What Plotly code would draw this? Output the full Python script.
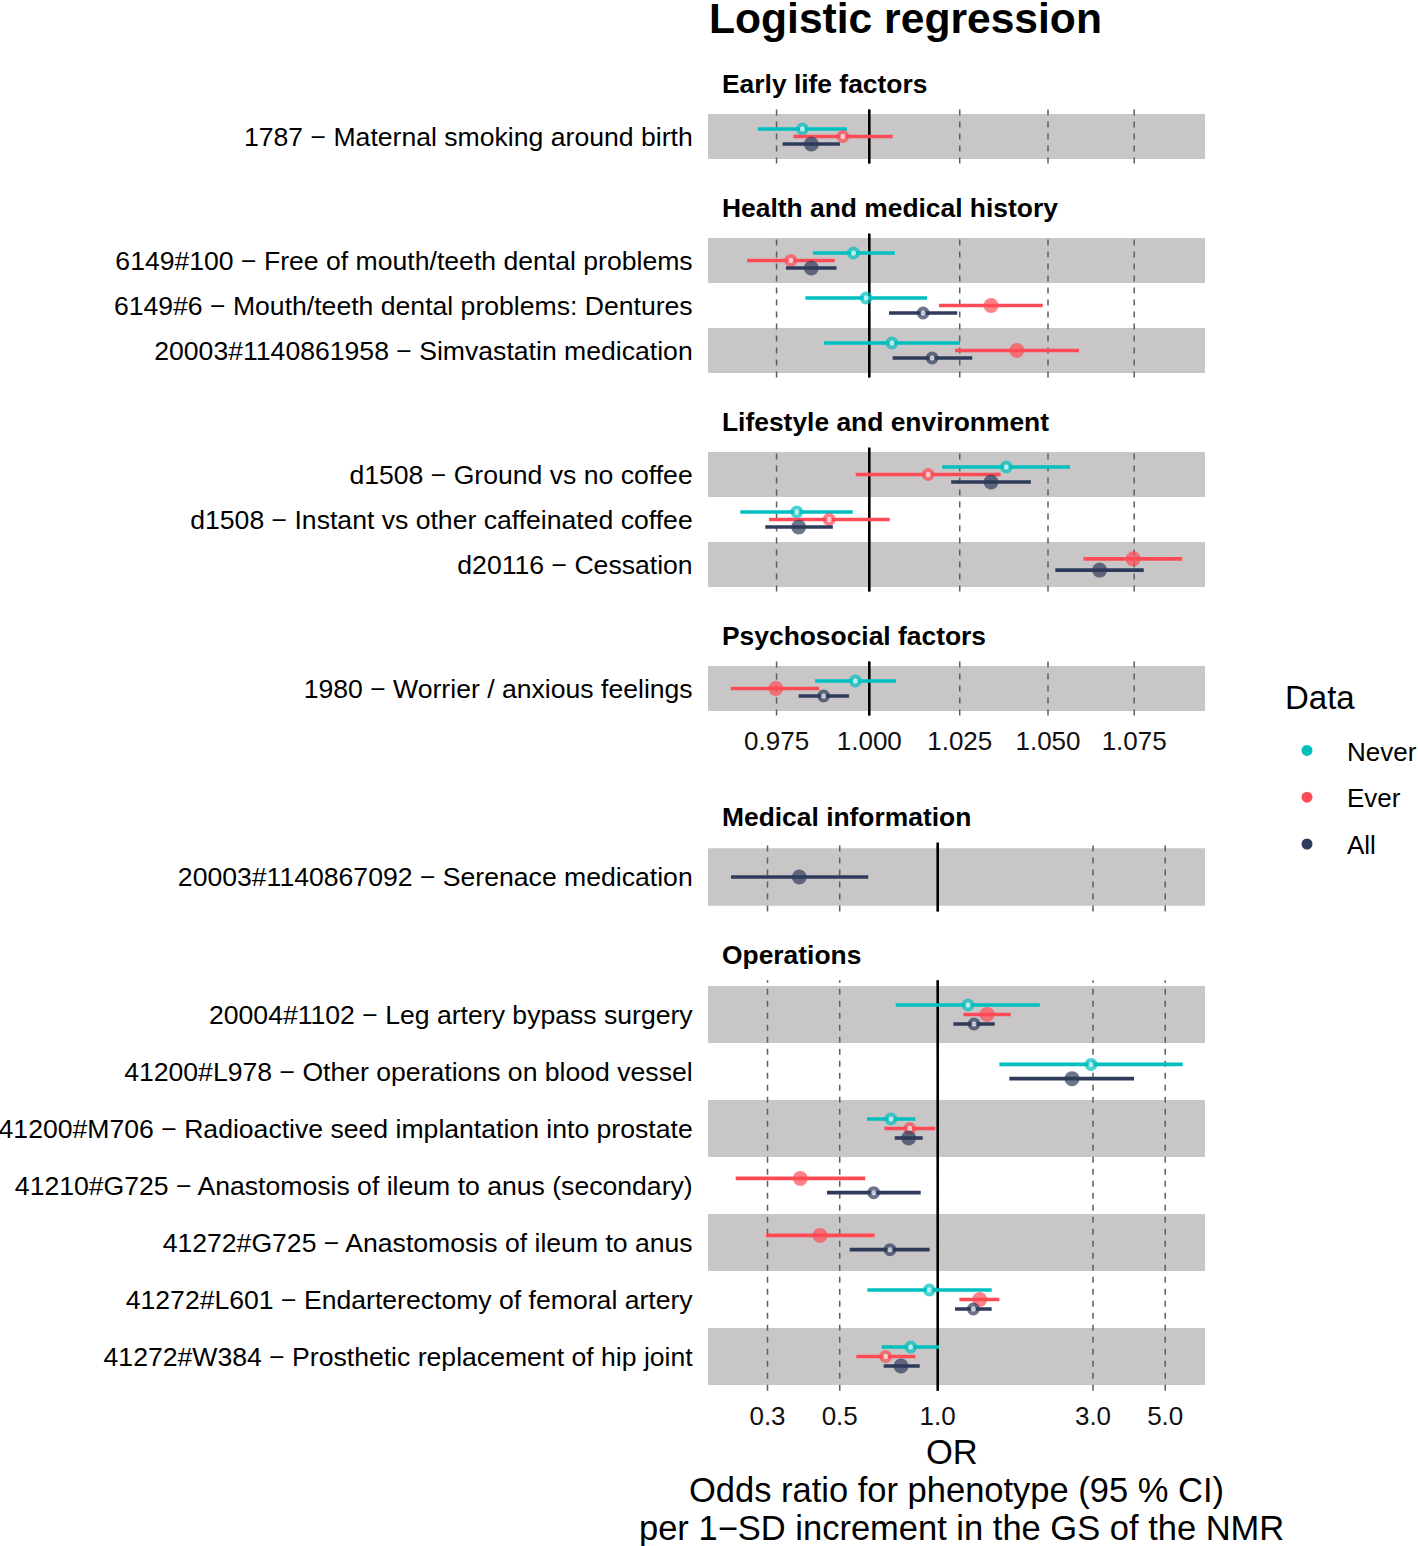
import plotly.graph_objects as go

# ---------------- data ----------------
phenotypes = [
    "1787 − Maternal smoking around birth",
    "6149#100 − Free of mouth/teeth dental problems",
    "6149#6 − Mouth/teeth dental problems: Dentures",
    "20003#1140861958 − Simvastatin medication",
    "d1508 − Ground vs no coffee",
    "d1508 − Instant vs other caffeinated coffee",
    "d20116 − Cessation",
    "1980 − Worrier / anxious feelings",
    "20003#1140867092 − Serenace medication",
    "20004#1102 − Leg artery bypass surgery",
    "41200#L978 − Other operations on blood vessel",
    "41200#M706 − Radioactive seed implantation into prostate",
    "41210#G725 − Anastomosis of ileum to anus (secondary)",
    "41272#G725 − Anastomosis of ileum to anus",
    "41272#L601 − Endarterectomy of femoral artery",
    "41272#W384 − Prosthetic replacement of hip joint",
]
facet_of = [
    "Early life factors",
    "Health and medical history", "Health and medical history", "Health and medical history",
    "Lifestyle and environment", "Lifestyle and environment", "Lifestyle and environment",
    "Psychosocial factors",
    "Medical information",
    "Operations", "Operations", "Operations", "Operations", "Operations", "Operations", "Operations",
]
facet_order = ["Early life factors", "Health and medical history", "Lifestyle and environment",
               "Psychosocial factors", "Medical information", "Operations"]
facet_block = ["top", "top", "top", "top", "bottom", "bottom"]

groups = ["Never", "Ever", "All"]

never_or = [0.9819, 0.9957, 0.9991, 1.0062, 1.0381, 0.9804, None, 0.9962, None, 1.239, 2.958, 0.7186, None, None, 0.9425, 0.826]
never_lo = [0.9700, 0.9847, 0.9827, 0.9877, 1.0201, 0.9654, None, 0.9853, None, 0.743, 1.547, 0.6066, None, None, 0.6078, 0.673]
never_hi = [0.9939, 1.0070, 1.0159, 1.0251, 1.0563, 0.9955, None, 1.0073, None, 2.058, 5.657, 0.8535, None, None, 1.465, 1.009]
never_sig = [0, 0, 0, 0, 0, 0, None, 0, None, 0, 0, 0, None, None, 0, 0]

ever_or = [0.9928, 0.9788, 1.0338, 1.0411, 1.0162, 0.9891, 1.0747, 0.9748, None, 1.418, None, 0.8204, 0.3784, 0.4348, 1.346, 0.692]
ever_lo = [0.9795, 0.9672, 1.0192, 1.0237, 0.9963, 0.9730, 1.0602, 0.9629, None, 1.199, None, 0.6855, 0.2395, 0.2969, 1.166, 0.5623]
ever_hi = [1.0064, 0.9906, 1.0485, 1.0589, 1.0365, 1.0056, 1.0892, 0.9864, None, 1.676, None, 0.9833, 0.599, 0.6404, 1.547, 0.8535]
ever_sig = [0, 0, 1, 1, 0, 0, 1, 1, None, 1, None, 0, 1, 1, 1, 0]

all_or = [0.9843, 0.9843, 1.0148, 1.0173, 1.0338, 0.9809, 1.0649, 0.9876, 0.3757, 1.293, 2.586, 0.8145, 0.6359, 0.7136, 1.287, 0.7714]
all_lo = [0.9766, 0.9775, 1.0054, 1.0064, 1.0226, 0.9720, 1.0521, 0.9809, 0.2317, 1.117, 1.66, 0.7376, 0.4569, 0.5365, 1.130, 0.6826]
all_hi = [0.9920, 0.9911, 1.0243, 1.0285, 1.0451, 0.9901, 1.0778, 0.9945, 0.6118, 1.497, 4.01, 0.8994, 0.8867, 0.9450, 1.465, 0.8805]
all_sig = [1, 1, 0, 0, 1, 1, 1, 0, 1, 0, 1, 1, 0, 0, 0, 1]

top_ticks = [0.975, 1.000, 1.025, 1.050, 1.075]
top_ticktext = ["0.975", "1.000", "1.025", "1.050", "1.075"]
bottom_ticks = [0.3, 0.5, 1.0, 3.0, 5.0]
bottom_ticktext = ["0.3", "0.5", "1.0", "3.0", "5.0"]

# ---------------- style ----------------
W, H = 1418, 1546
FONT = "Liberation Sans, Arial, Helvetica, sans-serif"
colors = {"Never": "#00BFBF", "Ever": "#FF4B55", "All": "#2F3B5B"}
BAND = "#C8C6C7"
GRID = "#5E5E5E"

series = {
    "Never": (never_or, never_lo, never_hi, never_sig),
    "Ever": (ever_or, ever_lo, ever_hi, ever_sig),
    "All": (all_or, all_lo, all_hi, all_sig),
}

X0, X1 = 708, 1205
panel_px = [(109.5, 163.5), (233.5, 377.5), (447.5, 591.5), (661.5, 715.5), (842.5, 911.5), (980.3, 1390.7)]
strip_px = [84, 208, 422, 636, 817, 955]
ranges = {"top": [-0.019125, 0.039805], "bottom": [-0.7057, 0.8212]}

fig = go.Figure()
shapes = []
annotations = []
layout_axes = {}

for k, facet in enumerate(facet_order, start=1):
    xa = "x" if k == 1 else f"x{k}"
    ya = "y" if k == 1 else f"y{k}"
    idx = [i for i, f in enumerate(facet_of) if f == facet]
    n = len(idx)
    rowy = {i: n - j for j, i in enumerate(idx)}
    block = facet_block[k - 1]

    for g in groups:
        orv, lov, hiv, sigv = series[g]
        xs, ys, ep, em, sz, fc, lw = [], [], [], [], [], [], []
        for i in idx:
            if orv[i] is None:
                continue
            present = [gg for gg in groups if series[gg][0][i] is not None]
            m = len(present)
            j = present.index(g)
            off = ((m - 1) / 2 - j) * 0.5 / m
            xs.append(orv[i])
            ys.append(rowy[i] + off)
            ep.append(hiv[i] - orv[i])
            em.append(orv[i] - lov[i])
            if sigv[i]:
                sz.append(15); fc.append(colors[g]); lw.append(0)
            else:
                sz.append(9); fc.append("white"); lw.append(4)
        if not xs:
            continue
        fig.add_trace(go.Scatter(
            x=xs, y=ys, mode="markers", xaxis=xa, yaxis=ya, showlegend=False,
            marker=dict(size=sz, color=fc, symbol="circle",
                        line=dict(color=colors[g], width=lw)),
            error_x=dict(type="data", symmetric=False, array=ep, arrayminus=em,
                         color=colors[g], thickness=3.6, width=0),
            hoverinfo="skip",
        ))

    top, bot = panel_px[k - 1]
    showlab = k in (4, 6)
    tv = top_ticks if block == "top" else bottom_ticks
    tt = top_ticktext if block == "top" else bottom_ticktext
    layout_axes["xaxis" if k == 1 else f"xaxis{k}"] = dict(
        domain=[X0 / W, X1 / W], anchor=ya, type="log", range=ranges[block],
        tickvals=tv, ticktext=tt, showticklabels=showlab,
        showgrid=False, zeroline=False, showline=False, ticks="outside", ticklen=2,
        tickcolor="rgba(0,0,0,0)",
        tickfont=dict(size=26, color="#111111", family=FONT),
    )
    layout_axes["yaxis" if k == 1 else f"yaxis{k}"] = dict(
        domain=[1 - bot / H, 1 - top / H], anchor=xa, range=[0.4, n + 0.6],
        tickvals=[rowy[i] for i in idx], ticktext=[phenotypes[i] for i in idx],
        showgrid=False, zeroline=False, showline=False, ticks="outside", ticklen=9,
        tickcolor="rgba(0,0,0,0)",
        tickfont=dict(size=26.6, color="#000000", family=FONT),
    )
    # alternating row bands
    for j, i in enumerate(idx):
        if j % 2 == 0:
            shapes.append(dict(type="rect", xref=f"{xa} domain", yref=ya, x0=0, x1=1,
                               y0=rowy[i] - 0.5, y1=rowy[i] + 0.5, fillcolor=BAND,
                               line=dict(width=0), layer="below"))
    # dashed major grid lines at the tick values
    for t in tv:
        shapes.append(dict(type="line", xref=xa, yref=f"{ya} domain", x0=t, x1=t, y0=0, y1=1,
                           line=dict(color=GRID, width=1.5, dash="6px,6px"), layer="below"))
    # reference line at OR = 1
    shapes.append(dict(type="line", xref=xa, yref=f"{ya} domain", x0=1, x1=1, y0=0, y1=1,
                       line=dict(color="black", width=2.6), layer="below"))
    annotations.append(dict(text=f"<b>{facet}</b>", xref="paper", yref="paper",
                            x=720 / W, y=1 - strip_px[k - 1] / H, xanchor="left", yanchor="middle",
                            showarrow=False, font=dict(size=26.4, color="black", family=FONT)))

for g in groups:
    fig.add_trace(go.Scatter(x=[None], y=[None], mode="markers", name=g, legendgroup=g,
                             marker=dict(size=11, color=colors[g]), xaxis="x", yaxis="y"))

annotations.append(dict(text="<b>Logistic regression</b>", xref="paper", yref="paper",
                        x=905 / W, y=1 - 18 / H, xanchor="center", yanchor="middle",
                        showarrow=False, font=dict(size=42.6, color="black", family=FONT)))
annotations.append(dict(text="Data", xref="paper", yref="paper", x=1283 / W, y=1 - 697 / H,
                        xanchor="left", yanchor="middle", showarrow=False,
                        font=dict(size=33, color="black", family=FONT)))
xtitle_lines = ["OR", "Odds ratio for phenotype (95 % CI)", "per 1−SD increment in the GS of the NMR"]
xtitle_px = [(952, 1452), (957, 1490), (961.5, 1528)]
for line, (px, py) in zip(xtitle_lines, xtitle_px):
    annotations.append(dict(text=line, xref="paper", yref="paper", x=px / W, y=1 - py / H,
                            xanchor="center", yanchor="middle", showarrow=False,
                            font=dict(size=34.5, color="black", family=FONT)))

fig.update_layout(
    width=W, height=H, margin=dict(l=0, r=0, t=0, b=0, autoexpand=False),
    paper_bgcolor="white", plot_bgcolor="white",
    font=dict(family=FONT, color="black"),
    shapes=shapes, annotations=annotations,
    legend=dict(x=1267 / W, y=1 - 727 / H, xanchor="left", yanchor="top",
                font=dict(size=26, family=FONT), tracegroupgap=10, itemwidth=70,
                bgcolor="rgba(0,0,0,0)"),
    **layout_axes,
)

fig.write_html("out.html", config={"displayModeBar": False},
               post_script="document.body.style.margin='0';")
